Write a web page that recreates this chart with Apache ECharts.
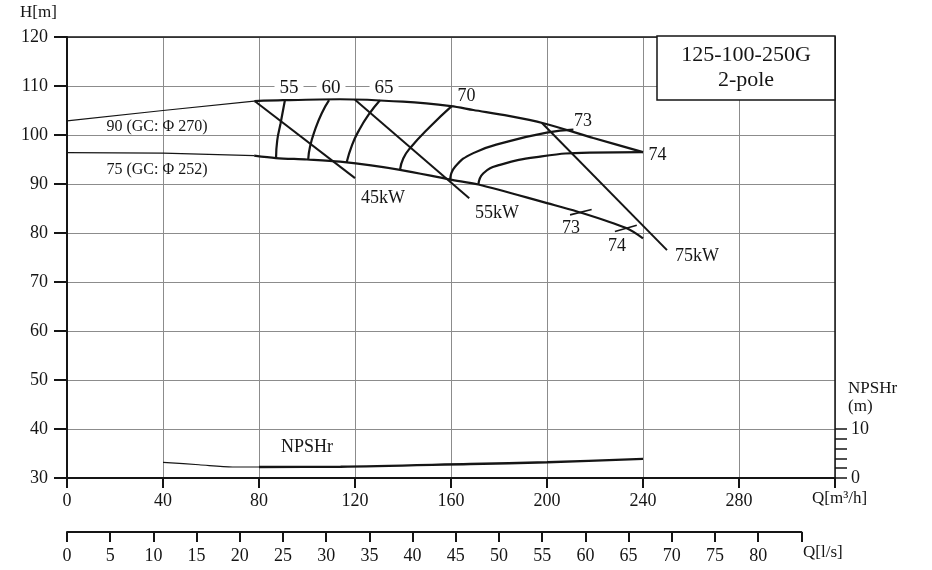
<!DOCTYPE html>
<html>
<head>
<meta charset="utf-8">
<script src="https://cdn.jsdelivr.net/npm/echarts@6/dist/echarts.min.js"></script>
<style>
html,body{margin:0;padding:0;background:#fff;}
#c{width:932px;height:570px;}
</style>
</head>
<body>
<div id="c"></div>
<script>
// ---- data (Q in m3/h, H in m, NPSHr in m) ----
const headUpperThin  = [[0,102.9],[40,105.0],[78,106.9]];
const headUpperThick = [[78,106.9],[90,107.1],[113.75,107.3],[140,106.8],[160,105.9],[169.3,105.1],[184,103.9],[198.5,102.4],[219.3,99.4],[240,96.5]];
const headLowerThin  = [[0,96.4],[40,96.3],[78,95.8]];
const headLowerThick = [[78,95.8],[87,95.3],[100,95.0],[113.75,94.55],[138.75,92.9],[159.6,90.9],[171.4,89.9],[200,86.1],[212.5,84.4],[233,81.0],[240,78.9]];
const eff55 = [[90.8,107.1],[89.0,102.4],[87.6,98.9],[87.1,95.3]];
const eff60 = [[109.2,107.1],[106.1,104.4],[103.3,101.0],[101.25,97.6],[100.5,95.0]];
const eff65 = [[130.4,107.1],[125.6,104.1],[121.7,101.0],[118.8,98.0],[116.5,94.4]];
const eff70 = [[160.3,105.9],[151.25,101.7],[142.9,97.3],[140.1,95.2],[138.75,92.9]];
const eff73 = [[159.6,90.9],[161.7,93.5],[169.3,96.3],[183.2,98.6],[199.9,100.5],[211,101.1]];
const eff74 = [[171.4,89.9],[173.5,92.2],[180.4,93.9],[197.1,95.6],[217.9,96.4],[240,96.5]];
const power45 = [[78.3,106.9],[120,91.2]];
const power55 = [[120,107.2],[167.6,87.1]];
const power75 = [[197.8,102.5],[250,76.5]];
const tick73 = [[209.6,83.7],[218.6,84.8]];
const tick74 = [[228.3,80.3],[237.4,81.6]];
const npshThin  = [[40,3.2],[55,2.7],[69,2.25],[80,2.25]];
const npshThick = [[80,2.25],[114,2.3],[168,2.85],[200,3.2],[240,3.9]];
const hTicks = [30,40,50,60,70,80,90,100,110,120];
const qTicksM3h = [0,40,80,120,160,200,240,280];
const qTicksLs = [0,5,10,15,20,25,30,35,40,45,50,55,60,65,70,75,80];
const npshTicks = [0,2,4,6,8,10];
const npshLabels = [0,10];
// annotations: [Q, H, text]
const curveLabels = [
  [92.5,109.6,'55'],[110,109.6,'60'],[132.1,109.6,'65']
];
const otherLabels = [
  [166.5,108.0,'70'],[215,102.9,'73'],[246,95.9,'74'],
  [131.7,87.1,'45kW'],[179.2,84.1,'55kW'],[262.5,75.3,'75kW'],
  [210,81.0,'73'],[229.2,77.3,'74'],
  [100,36.3,'NPSHr']
];
const impellerLabels = [[37.5,101.6,'90 (GC: \u03A6 270)'],[37.5,92.9,'75 (GC: \u03A6 252)']];

const FONT = '"Liberation Serif","DejaVu Serif",serif';
const INK = '#151515';
const GRID = '#8c8c8c';

function line(data, w, yIdx, smooth){
  return {type:'line', data:data, xAxisIndex:0, yAxisIndex:yIdx||0, symbol:'none',
    smooth: smooth===undefined?0.5:smooth, lineStyle:{color:INK,width:w}, z:5, silent:true, animation:false};
}
function labels(arr, size, bg){
  return {type:'scatter', xAxisIndex:0, yAxisIndex:0, symbolSize:0, z:10, silent:true, animation:false,
    itemStyle:{opacity:1},
    data: arr.map(d=>({value:[d[0],d[1]], name:d[2]})),
    label:{show:true, position:'inside', formatter:p=>p.name, fontFamily:FONT, fontSize:size, color:INK, opacity:1,
      backgroundColor: bg?'#fff':'transparent', padding: bg?[0,5]:0}};
}

const chart = echarts.init(document.getElementById('c'));
chart.setOption({
  animation:false,
  backgroundColor:'#fff',
  grid:[
    {left:67, right:97, top:37, bottom:92},
    {left:67, width:734.4, top:531, height:1}
  ],
  xAxis:[
    {type:'value', gridIndex:0, min:0, max:320, interval:40, position:'bottom',
      axisLine:{show:true, onZero:false, lineStyle:{color:INK,width:2}},
      axisTick:{show:true, inside:false, length:10, lineStyle:{color:INK,width:2}},
      axisLabel:{margin:14, fontFamily:FONT, fontSize:18, color:INK, formatter:v=>qTicksM3h.indexOf(v)>=0?String(v):''},
      splitLine:{show:true, lineStyle:{color:GRID,width:1}}},
    {type:'value', gridIndex:0, min:0, max:320, position:'top',
      axisLine:{show:true, onZero:false, lineStyle:{color:INK,width:1.5}},
      axisTick:{show:false}, axisLabel:{show:false}, splitLine:{show:false}},
    {type:'value', gridIndex:1, min:0, max:85, interval:5, position:'bottom',
      axisLine:{show:true, onZero:false, lineStyle:{color:INK,width:2}},
      axisTick:{show:true, inside:false, length:10, lineStyle:{color:INK,width:2}},
      axisLabel:{margin:15, fontFamily:FONT, fontSize:18, color:INK, formatter:v=>qTicksLs.indexOf(v)>=0?String(v):''},
      splitLine:{show:false}}
  ],
  yAxis:[
    {type:'value', gridIndex:0, min:30, max:120, interval:10, position:'left',
      axisLine:{show:true, onZero:false, lineStyle:{color:INK,width:2}},
      axisTick:{show:true, inside:false, length:13, lineStyle:{color:INK,width:2}},
      axisLabel:{margin:19, fontFamily:FONT, fontSize:18, color:INK, formatter:v=>hTicks.indexOf(v)>=0?String(v):''},
      splitLine:{show:true, lineStyle:{color:GRID,width:1}}},
    {type:'value', gridIndex:0, min:0, max:90, position:'right',
      axisLine:{show:true, onZero:false, lineStyle:{color:INK,width:1.5}},
      axisTick:{show:true, inside:false, length:12, customValues:npshTicks, lineStyle:{color:INK,width:1.5}},
      axisLabel:{margin:16, fontFamily:FONT, fontSize:18, color:INK, customValues:npshLabels},
      splitLine:{show:false}},
    {type:'value', gridIndex:1, min:0, max:1, show:false}
  ],
  graphic:[
    {type:'text', left:20, top:4, style:{text:'H[m]', font:'17px '+FONT, fill:INK}},
    {type:'rect', shape:{x:657, y:36, width:178, height:64}, style:{fill:'#fff', stroke:INK, lineWidth:1.5}, z:20},
    {type:'text', x:746, y:55, style:{text:'125-100-250G', font:'22px '+FONT, fill:INK, textAlign:'center', textVerticalAlign:'middle'}, z:21},
    {type:'text', x:746, y:80, style:{text:'2-pole', font:'22px '+FONT, fill:INK, textAlign:'center', textVerticalAlign:'middle'}, z:21},
    {type:'text', x:848, y:389, style:{text:'NPSHr', font:'17px '+FONT, fill:INK, textVerticalAlign:'middle'}},
    {type:'text', x:848, y:407, style:{text:'(m)', font:'17px '+FONT, fill:INK, textVerticalAlign:'middle'}},
    {type:'text', x:812, y:499, style:{text:'Q[m\u00B3/h]', font:'17px '+FONT, fill:INK, textVerticalAlign:'middle'}},
    {type:'text', x:803, y:553, style:{text:'Q[l/s]', font:'17px '+FONT, fill:INK, textVerticalAlign:'middle'}}
  ],
  series:[
    line(headUpperThin,1.2,0,0),
    line(headUpperThick,2.2,0,0.3),
    line(headLowerThin,1.2,0,0),
    line(headLowerThick,2.2,0,0.3),
    line(eff55,2.2), line(eff60,2.2), line(eff65,2.2), line(eff70,2.2),
    line(eff73,2.2), line(eff74,2.2),
    line(power45,2,0,0), line(power55,2,0,0), line(power75,2,0,0),
    line(tick73,1.6,0,0), line(tick74,1.6,0,0),
    line(npshThin,1.2,1,0.3),
    line(npshThick,2.4,1,0.3),
    labels(curveLabels,19,true),
    labels(otherLabels,18,false),
    labels(impellerLabels,16,false)
  ]
});
</script>
</body>
</html>
